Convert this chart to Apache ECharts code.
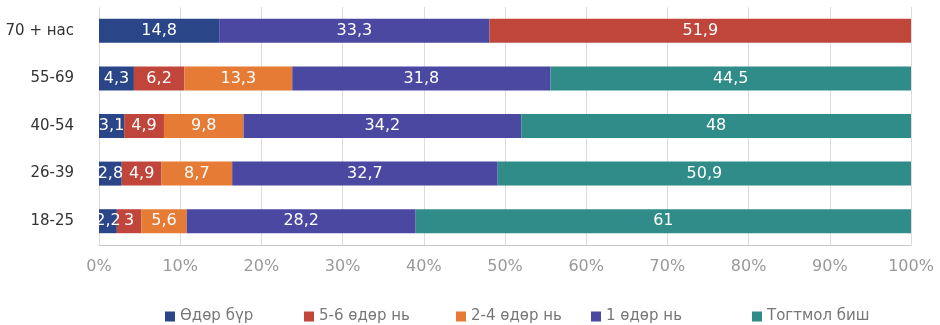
<!DOCTYPE html>
<html>
<head>
<meta charset="utf-8">
<script src="https://cdn.jsdelivr.net/npm/echarts@6/dist/echarts.min.js"></script>
<style>
  html, body { margin: 0; padding: 0; background: #fff; }
  #chart { width: 940px; height: 325px; }
</style>
</head>
<body>
<div id="chart"></div>
<script>
// Age groups, bottom to top on the category axis
const ageGroups = ['18-25', '26-39', '40-54', '55-69', '70 + нас'];

const seriesNames = ['Өдөр бүр', '5-6 өдөр нь', '2-4 өдөр нь', '1 өдөр нь', 'Тогтмол биш'];

// Shares (%) per age group, same order as ageGroups
const everyDay    = [2.2, 2.8, 3.1, 4.3, 14.8];
const fiveSixDays = [3.0, 4.9, 4.9, 6.2, null];
const twoFourDays = [5.6, 8.7, 9.8, 13.3, null];
const oneDay      = [28.2, 32.7, 34.2, 31.8, 33.3];
const irregular   = [61, 50.9, 48, 44.5, 51.9];

const tickLabels = ['0%', '10%', '20%', '30%', '40%', '50%', '60%', '70%', '80%', '90%', '100%'];

const colors = ['#2a4689', '#c0463b', '#e67b36', '#4b48a2', '#2f8c88'];

const seriesValues = [everyDay, fiveSixDays, twoFourDays, oneDay, irregular];

const fontFamily = '"DejaVu Sans", Verdana, sans-serif';

const chart = echarts.init(document.getElementById('chart'), null, { renderer: 'canvas' });

const series = seriesNames.map((name, si) => ({
  name: name,
  type: 'bar',
  stack: 'total',
  barWidth: 24,
  itemStyle: { color: colors[si] },
  label: {
    show: true,
    position: 'inside',
    color: '#ffffff',
    fontSize: 16,
    fontFamily: fontFamily,
    formatter: p => (p.value == null ? '' : String(p.value).replace('.', ','))
  },
  data: seriesValues[si].map((v, ci) => {
    // the last segment of the oldest group is drawn in red
    if (si === 4 && ci === 4) {
      return { value: v, itemStyle: { color: colors[1] } };
    }
    return v;
  })
}));

// one legend per entry so each can sit at its own spot
const legendLefts = [165, 304, 456, 591, 752];
const legends = seriesNames.map((name, i) => ({
  data: [name],
  left: legendLefts[i],
  top: 309,
  padding: 0,
  itemWidth: 10,
  itemHeight: 10,
  itemGap: 4,
  icon: 'rect',
  selectedMode: false,
  textStyle: { color: '#777', fontSize: 15, fontFamily: fontFamily }
}));

chart.setOption({
  animation: false,
  backgroundColor: '#ffffff',
  legend: legends,
  grid: { left: 99, right: 29, top: 7, bottom: 80, containLabel: false },
  xAxis: {
    type: 'value',
    min: 0,
    max: 100,
    interval: 10,
    axisLine: { show: true, lineStyle: { color: '#c8c8c8' } },
    axisTick: { show: false },
    splitLine: { show: true, lineStyle: { color: '#dcdcdc' } },
    axisLabel: {
      color: '#999',
      fontSize: 16,
      fontFamily: fontFamily,
      margin: 14,
      formatter: v => tickLabels[Math.round(v / 10)]
    }
  },
  yAxis: {
    type: 'category',
    data: ageGroups,
    axisLine: { show: false },
    axisTick: { show: false },
    axisLabel: { color: '#333', fontSize: 15, fontFamily: fontFamily, margin: 25 }
  },
  series: series
});
</script>
</body>
</html>
